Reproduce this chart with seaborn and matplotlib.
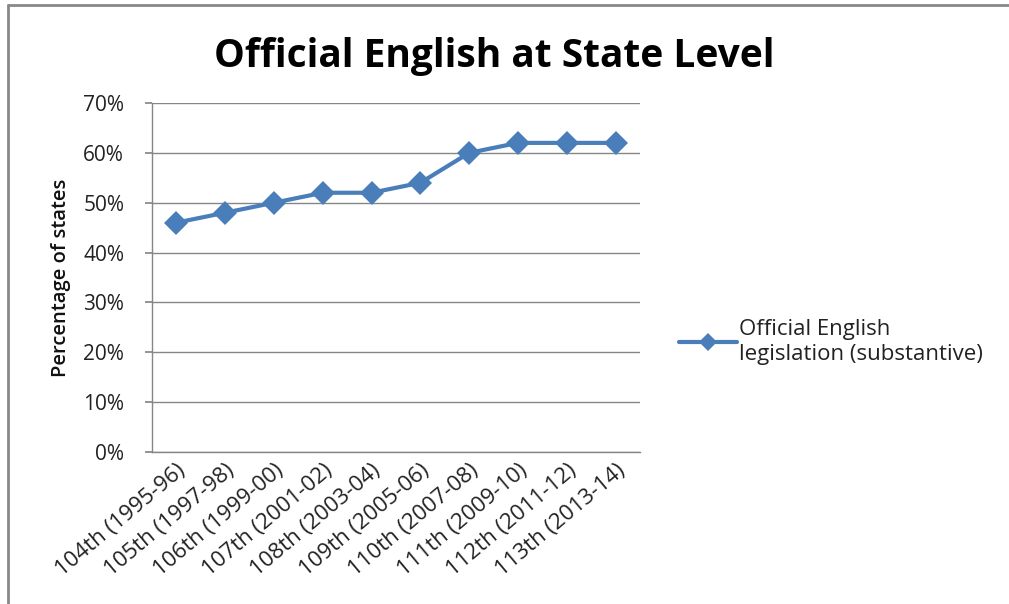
import matplotlib
matplotlib.use("Agg")
import matplotlib.pyplot as plt
import seaborn as sns
import pandas as pd
from matplotlib.ticker import PercentFormatter
from matplotlib.lines import Line2D

congresses = ["104th (1995-96)", "105th (1997-98)", "106th (1999-00)", "107th (2001-02)",
              "108th (2003-04)", "109th (2005-06)", "110th (2007-08)", "111th (2009-10)",
              "112th (2011-12)", "113th (2013-14)"]
percent_states = [46, 48, 50, 52, 52, 54, 60, 62, 62, 62]
series_label = "Official English\nlegislation (substantive)"
title = "Official English at State Level"
ylabel = "Percentage of states"

sns.set_theme(style="white")
plt.rcParams['font.family'] = ['Open Sans', 'DejaVu Sans']

df = pd.DataFrame({"congress": congresses, "pct": percent_states})

fig = plt.figure(figsize=(10.09, 6.04), dpi=100)
ax = fig.add_axes([152/1009, 1-452/604, (640-152)/1009, (452-103)/604])

color = "#4A7EBB"
sns.lineplot(data=df, x="congress", y="pct", ax=ax, color=color, linewidth=3,
             marker="D", markersize=12, markeredgewidth=0, sort=False)

ax.set_xlim(-0.5, len(congresses) - 0.5)
ax.set_ylim(0, 70)
ax.set_yticks(range(0, 71, 10))
ax.yaxis.set_major_formatter(PercentFormatter(decimals=0))
ax.grid(axis="y", color="#868686", linewidth=1)
ax.set_axisbelow(True)
for s in ["top", "right"]:
    ax.spines[s].set_visible(False)
for s in ["left", "bottom"]:
    ax.spines[s].set_color("#868686")
    ax.spines[s].set_linewidth(1)

ax.tick_params(axis="y", which="major", length=5, color="#868686", labelsize=15,
               labelcolor="#222222", pad=15, left=True)
ax.tick_params(axis="x", length=0, labelsize=16, labelcolor="#222222", pad=6)
plt.setp(ax.get_xticklabels(), rotation=40, ha="right", rotation_mode="anchor")

ax.set_xlabel("")
ax.set_ylabel(ylabel, fontsize=14.5, fontweight="semibold", color="#111111", labelpad=9)

fig.text(494/1009, 1-56/604, title, fontsize=28, fontweight="bold", ha="center", va="center",
         color="#000000")

handle = Line2D([], [], color=color, linewidth=3, marker="D", markersize=9, markeredgewidth=0)
fig.legend([handle], [series_label], loc="center left", bbox_to_anchor=(659/1009, 1-342/604),
           frameon=False, fontsize=16, handlelength=2.6, handletextpad=0.1,
           labelspacing=0.2, labelcolor="#222222")

# outer frame (left and top edges visible)
fig.add_artist(Line2D([7.5/1009, 7.5/1009], [0, 1-5/604], transform=fig.transFigure,
                      color="#888888", linewidth=2))
fig.add_artist(Line2D([7.5/1009, 1], [1-5/604, 1-5/604], transform=fig.transFigure,
                      color="#888888", linewidth=2))

fig.savefig("out.png", dpi=100)
